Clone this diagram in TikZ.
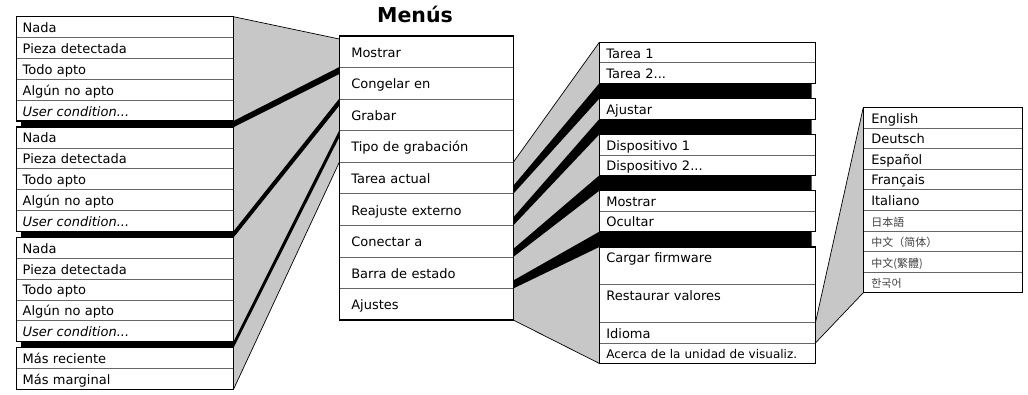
\documentclass[tikz,border=0pt]{standalone}
\usepackage{fontspec}
\setmainfont{DejaVu Sans}
\newfontfamily\cjk{Noto Sans CJK SC}
\usepackage{tikz}
\usetikzlibrary{positioning, calc, backgrounds}

\begin{document}
\begin{tikzpicture}[x=1pt, y=-1pt, node distance=0pt]
        \tikzstyle{cell}=[draw=black!60, line width=.7pt, rectangle, outer sep=0pt, inner ysep=0pt, text height=11pt, text depth=0pt, align=left, font=\fontsize{13}{15}\selectfont]
        \tikzstyle{opt}=[cell, text width=204.8pt, inner xsep=6pt, minimum height=20.85pt]
        \tikzstyle{menu}=[cell, text width=150pt, inner xsep=12pt, minimum height=31.56pt]
        \tikzstyle{sub}=[cell, text width=202.2pt, inner xsep=7pt, minimum height=20.5pt]
        \tikzstyle{tall}=[sub, minimum height=37.7pt, text depth=16.8pt]
        \tikzstyle{lang}=[cell, text width=143.4pt, inner xsep=8pt, minimum height=20.6pt]
        \tikzstyle{cjklang}=[lang, font=\cjk\fontsize{11}{13}\selectfont, text=black!75]
        \tikzstyle{grpframe}=[draw=black, line width=1.1pt]
        \tikzstyle{wedge}=[fill=black!22]
        \tikzstyle{rim}=[draw=black, line width=.7pt]
        \useasboundingbox (0,0) rectangle (1028,394);

        \node[font=\bfseries\fontsize{20.5}{24}\selectfont, anchor=base] (title) at (415,22) {Menús};

        % left column
        \foreach \g/\top in {1/16.7, 2/127, 3/237.3} {
          \node[opt, anchor=north west] (l\g-1) at (16.7,\top) {Nada};
          \node[opt, below=of l\g-1] (l\g-2) {Pieza detectada};
          \node[opt, below=of l\g-2] (l\g-3) {Todo apto};
          \node[opt, below=of l\g-3] (l\g-4) {Algún no apto};
          \node[opt, below=of l\g-4] (l\g-5) {\itshape User condition...};
          \draw[grpframe] (l\g-1.north west) rectangle (l\g-5.south east);
        }
        \node[opt, anchor=north west] (l4-1) at (16.7,347.6) {Más reciente};
        \node[opt, below=of l4-1] (l4-2) {Más marginal};
        \draw[grpframe] (l4-1.north west) rectangle (l4-2.south east);

        % main menu
        \node[menu, anchor=north west] (m1) at (339.3,36) {Mostrar};
        \node[menu, below=of m1] (m2) {Congelar en};
        \node[menu, below=of m2] (m3) {Grabar};
        \node[menu, below=of m3] (m4) {Tipo de grabación};
        \node[menu, below=of m4] (m5) {Tarea actual};
        \node[menu, below=of m5] (m6) {Reajuste externo};
        \node[menu, below=of m6] (m7) {Conectar a};
        \node[menu, below=of m7] (m8) {Barra de estado};
        \node[menu, below=of m8] (m9) {Ajustes};
        \draw[grpframe] (m1.north west) rectangle (m9.south east);

        % right column
        \node[sub, anchor=north west] (t1) at (599.3,42.3) {Tarea 1};
        \node[sub, below=of t1] (t2) {Tarea 2...};
        \node[sub, below=15.3pt of t2] (aj) {Ajustar};
        \node[sub, below=15.3pt of aj] (d1) {Dispositivo 1};
        \node[sub, below=of d1] (d2) {Dispositivo 2...};
        \node[sub, below=15.3pt of d2] (mo) {Mostrar};
        \node[sub, below=of mo] (oc) {Ocultar};
        \node[tall, below=15.3pt of oc] (cf) {Cargar firmware};
        \node[tall, below=of cf] (rv) {Restaurar valores};
        \node[sub, below=of rv] (id) {Idioma};
        \node[sub, below=of id, font=\fontsize{12}{14}\selectfont] (ac) {Acerca de la unidad de visualiz.};
        \foreach \a/\b in {t1/t2, aj/aj, d1/d2, mo/oc, cf/ac}
          \draw[grpframe] (\a.north west) rectangle (\b.south east);

        % languages
        \node[lang, anchor=north west] (en) at (863.3,107.3) {English};
        \node[lang, below=of en] (de) {Deutsch};
        \node[lang, below=of de] (es) {Español};
        \node[lang, below=of es] (fr) {Français};
        \node[lang, below=of fr] (it) {Italiano};
        \node[cjklang, below=of it] (ja) {日本語};
        \node[cjklang, below=of ja] (zhs) {中文（简体）};
        \node[cjklang, below=of zhs] (zht) {中文(繁體)};
        \node[cjklang, below=of zht] (ko) {한국어};
        \draw[grpframe] (en.north west) rectangle (ko.south east);

        \begin{scope}[on background layer]
          % gray wedges
          \foreach \g in {1,2,3}
            \fill[wedge] (l\g-1.north east) -- ([yshift=-3pt]m\g.north west) -- ([yshift=-6.5pt]m\g.south west) -- ([yshift=-6.5pt]l\g-5.south east) -- cycle;
          \fill[wedge] (l4-1.north east) -- ([yshift=-3pt]m4.north west) -- (m4.south west) -- (l4-2.south east) -- cycle;
          \foreach \m/\a/\b in {5/t1/t2, 6/aj/aj, 7/d1/d2, 8/mo/oc}
            \fill[wedge] (m\m.north east) -- (\a.north west) -- ([yshift=-15.3pt]\b.south west) -- (m\m.south east) -- cycle;
          \fill[wedge] (m9.north east) -- (cf.north west) -- (ac.south west) -- (m9.south east) -- cycle;
          \fill[wedge] (id.north east) -- (en.north west) -- (ko.south west) -- (id.south east) -- cycle;

          % black bands
          \foreach \g in {1,2,3}
            \fill ([xshift=4.3pt]l\g-5.south west) -- (l\g-5.south east) -- ([yshift=.5pt]m\g.south west) -- ([yshift=-6.5pt]m\g.south west) -- ([yshift=-6.3pt]l\g-5.south east) -- ([xshift=4.3pt,yshift=-6.3pt]l\g-5.south west) -- cycle;
          \foreach \m/\b in {5/t2, 6/aj, 7/d2, 8/oc}
            \fill ([yshift=8pt]m\m.south east) -- (\b.south west) -- ([xshift=-4pt]\b.south east) -- ([xshift=-4pt,yshift=-15.3pt]\b.south east) -- ([yshift=-15.3pt]\b.south west) -- (m\m.south east) -- cycle;

          \draw[rim] (l1-1.north east) -- ([yshift=-3pt]m1.north west);
          \draw[rim] (l4-2.south east) -- (m4.south west);
          \draw[rim] (m5.north east) -- (t1.north west);
          \draw[rim] (m9.south east) -- (ac.south west);
          \draw[rim] (id.north east) -- (en.north west);
          \draw[rim] (id.south east) -- (ko.south west);
        \end{scope}
\end{tikzpicture}
\end{document}
